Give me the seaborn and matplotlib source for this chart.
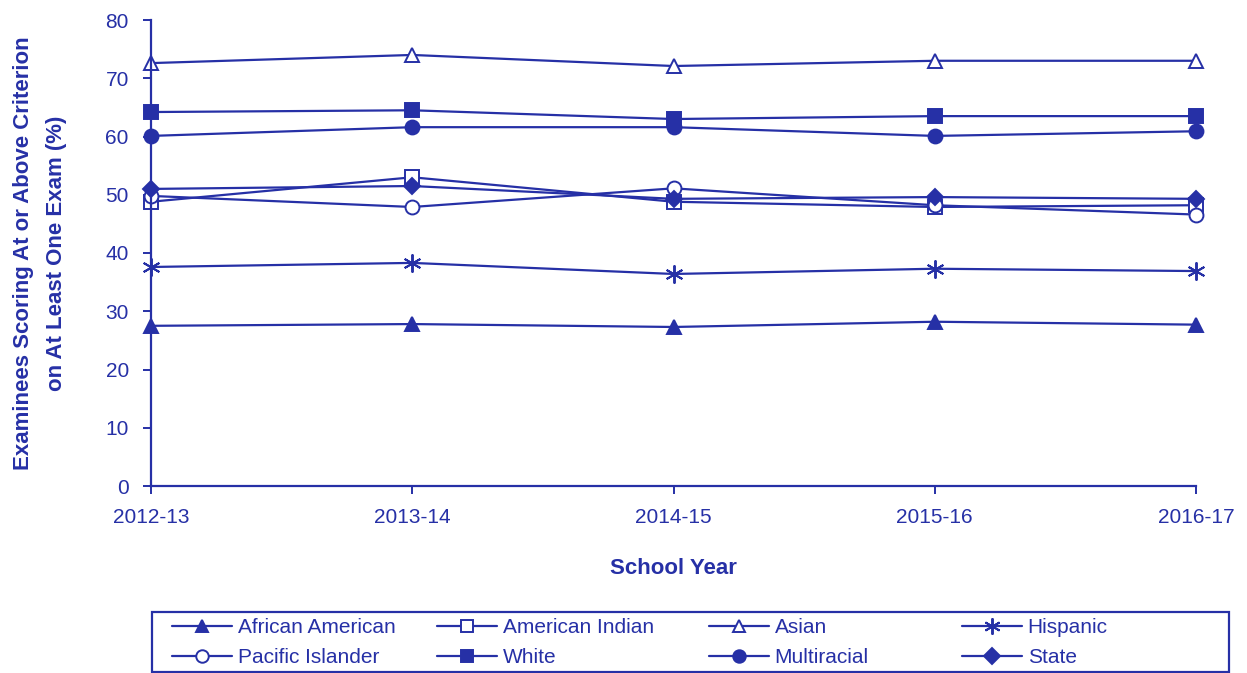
import pandas as pd
import matplotlib
matplotlib.use("Agg")
import matplotlib.pyplot as plt
import seaborn as sns
from matplotlib.lines import Line2D
from matplotlib.patches import Rectangle

years = ["2012-13", "2013-14", "2014-15", "2015-16", "2016-17"]
groups = ["African American", "American Indian", "Asian", "Hispanic",
          "Pacific Islander", "White", "Multiracial", "State"]

african_american = [27.5, 27.8, 27.3, 28.2, 27.7]
american_indian = [48.8, 53.0, 48.8, 47.9, 48.2]
asian = [72.6, 74.0, 72.1, 73.0, 73.0]
hispanic = [37.6, 38.3, 36.4, 37.3, 36.9]
pacific_islander = [49.8, 47.9, 51.1, 48.2, 46.6]
white = [64.2, 64.5, 63.0, 63.5, 63.5]
multiracial = [60.1, 61.6, 61.6, 60.1, 60.9]
state = [51.0, 51.5, 49.3, 49.6, 49.3]

values = [african_american, american_indian, asian, hispanic,
          pacific_islander, white, multiracial, state]

df = pd.DataFrame([
    {"year": y, "idx": i, "group": g, "pct": v}
    for g, vals in zip(groups, values)
    for i, (y, v) in enumerate(zip(years, vals))
])

blue = "#2630A6"
markers = {"African American": "^", "American Indian": "s", "Asian": "^",
           "Hispanic": (6, 2, 0), "Pacific Islander": "o", "White": "s",
           "Multiracial": "o", "State": "D"}
sizes = {"Hispanic": 13, "State": 8.5}
hollow = {"American Indian", "Asian", "Pacific Islander"}

sns.set_style("white")
plt.rcParams["font.family"] = ["Liberation Sans", "DejaVu Sans"]

fig = plt.figure(figsize=(12.47, 6.73), dpi=100)
ax = fig.add_axes([151 / 1247, 1 - 486 / 673, (1196 - 151) / 1247, (486 - 20) / 673])

handles = {}
for g in groups:
    sub = df[df.group == g]
    face = "white" if g in hollow else blue
    ms = sizes.get(g, 10)
    sns.lineplot(data=sub, x="idx", y="pct", ax=ax, color=blue, lw=1.6,
                 marker=markers[g], markersize=ms, markerfacecolor=face,
                 markeredgecolor=blue, markeredgewidth=1.4, clip_on=False,
                 legend=False)
    handles[g] = Line2D([0], [0], color=blue, lw=1.6, marker=markers[g],
                        markersize=ms * 0.9, markerfacecolor=face,
                        markeredgecolor=blue, markeredgewidth=1.4)

ax.set_xlim(0, len(years) - 1)
ax.set_ylim(0, 80)
ax.set_xticks(range(len(years)))
ax.set_xticklabels(years)
ax.set_yticks(range(0, 81, 10))
for s in ["top", "right"]:
    ax.spines[s].set_visible(False)
for s in ["left", "bottom"]:
    ax.spines[s].set_color(blue)
    ax.spines[s].set_linewidth(1.6)
ax.tick_params(axis="both", colors=blue, labelcolor=blue, labelsize=15,
               length=6, width=1.4, direction="out", left=True, bottom=True)
ax.tick_params(axis="y", pad=10)
ax.tick_params(axis="x", pad=10)

ax.set_xlabel("School Year", color=blue, fontsize=16, fontweight="bold", labelpad=22)
ax.set_ylabel("Examinees Scoring At or Above Criterion\non At Least One Exam (%)",
              color=blue, fontsize=16, fontweight="bold", labelpad=28, linespacing=1.7)

# legend: 4 columns on a fixed grid, 2 rows, one frame around all
fig.patches.append(Rectangle((152 / 1247, 1 / 673), (1229 - 152) / 1247, 60 / 673,
                             transform=fig.transFigure, fill=False,
                             edgecolor=blue, lw=1.6))
col_x = [172, 437, 709, 962]
for c, x in enumerate(col_x):
    names = [groups[c], groups[c + 4]]
    leg = fig.legend([handles[n] for n in names], names, loc="upper left",
                     bbox_to_anchor=(x / 1247, 1 - 618 / 673), frameon=False,
                     fontsize=15, handlelength=2.9, handletextpad=0.25,
                     borderpad=0, borderaxespad=0, labelspacing=0.55)
    for t in leg.get_texts():
        t.set_color(blue)

fig.savefig("out.png", dpi=100)
